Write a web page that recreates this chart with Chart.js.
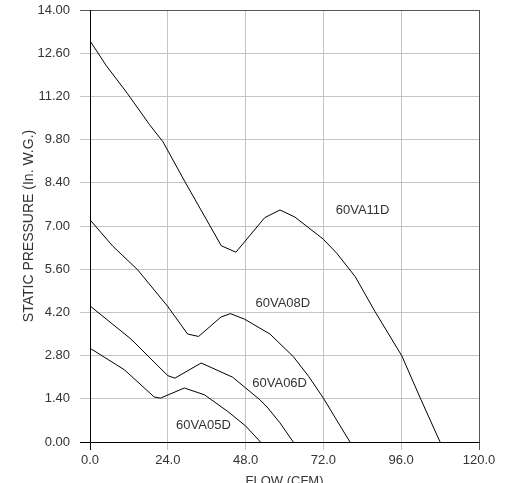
<!DOCTYPE html>
<html lang="en">
<head>
<meta charset="UTF-8">
<title>Fan curves</title>
<script src="https://cdn.jsdelivr.net/npm/chart.js"></script>
<style>
  html, body { margin: 0; padding: 0; background: #fff; overflow: hidden; }
  #wrap { width: 506px; height: 483px; position: relative; }
</style>
</head>
<body>
<div id="wrap"><canvas id="fanChart"></canvas></div>
<script>
// tick labels
const flowTicks = [0, 24, 48, 72, 96, 120];
const pressureTicks = [0, 1.4, 2.8, 4.2, 5.6, 7.0, 8.4, 9.8, 11.2, 12.6, 14.0];

// curves (flow in CFM, pressure in In. W.G.)
const flow11D = [0, 5, 11.5, 18.4, 22.5, 29.2, 40.5, 45, 53.9, 58.6, 63.2, 72, 76.1, 81.8, 87.9, 96.2, 101.9, 108];
const pres11D = [13.0, 12.2, 11.3, 10.28, 9.73, 8.45, 6.36, 6.15, 7.27, 7.52, 7.29, 6.57, 6.12, 5.36, 4.23, 2.79, 1.42, 0];

const flow08D = [0, 7, 14.7, 16.2, 24, 30.1, 33.5, 40.4, 43.3, 47.7, 55.5, 62.7, 67.5, 72, 80.2];
const pres08D = [7.2, 6.35, 5.58, 5.39, 4.39, 3.50, 3.42, 4.05, 4.16, 3.98, 3.50, 2.77, 2.12, 1.42, 0];

const flow06D = [0, 12.6, 24, 26.2, 34.3, 44, 52.4, 54.9, 58.6, 62.7];
const pres06D = [4.41, 3.34, 2.15, 2.07, 2.56, 2.10, 1.37, 1.10, 0.62, 0];

const flow05D = [0, 10.6, 19.8, 21.7, 29.1, 35.3, 42.5, 48, 52.6];
const pres05D = [3.04, 2.34, 1.46, 1.42, 1.75, 1.53, 0.99, 0.52, 0];

const curveNames = ['60VA11D', '60VA08D', '60VA06D', '60VA05D'];
// where each model name sits, in data units
const nameFlow = [84.1, 59.5, 58.5, 35.0];
const namePres = [7.50, 4.50, 1.89, 0.53];

function pairs(xs, ys) {
    return xs.map((x, i) => ({ x: x, y: ys[i] }));
}

const series = [
    pairs(flow11D, pres11D),
    pairs(flow08D, pres08D),
    pairs(flow06D, pres06D),
    pairs(flow05D, pres05D)
];

const FONT = 'Arial, "Liberation Sans", Helvetica, sans-serif';

// grid: axes black, far edges dark gray, inner lines light gray
function gridColor(edgeMax) {
    return (c) => {
        if (!c.tick) return '#c4c4c4';
        if (Math.abs(c.tick.value) < 1e-9) return '#000';
        if (Math.abs(c.tick.value - edgeMax) < 1e-9) return '#555';
        return '#c4c4c4';
    };
}

const curveLabels = {
    id: 'curveLabels',
    afterDatasetsDraw(chart) {
        const ctx = chart.ctx;
        const xs = chart.scales.x, ys = chart.scales.y;
        ctx.save();
        ctx.font = '13px ' + FONT;
        ctx.fillStyle = '#333';
        ctx.textAlign = 'center';
        ctx.textBaseline = 'middle';
        curveNames.forEach((name, i) => {
            ctx.fillText(name, xs.getPixelForValue(nameFlow[i]), ys.getPixelForValue(namePres[i]));
        });
        ctx.restore();
    }
};

new Chart(document.getElementById('fanChart'), {
    type: 'line',
    data: {
        datasets: series.map((d, i) => ({
            label: curveNames[i],
            data: d,
            borderColor: '#000',
            borderWidth: 1,
            pointRadius: 0,
            tension: 0,
            fill: false
        }))
    },
    options: {
        responsive: true,
        maintainAspectRatio: false,
        animation: false,
        layout: { padding: { top: 10, right: 27, left: 0, bottom: 0 } },
        plugins: {
            legend: { display: false },
            tooltip: { enabled: false }
        },
        scales: {
            x: {
                type: 'linear',
                min: 0,
                max: 120,
                afterBuildTicks: (axis) => { axis.ticks = flowTicks.map(v => ({ value: v })); },
                afterFit: (axis) => {
                    axis.height = 41;
                    axis.paddingLeft = 0;
                    axis.paddingRight = 0;
                },
                ticks: {
                    padding: 3,
                    color: '#333',
                    font: { family: FONT, size: 13 },
                    maxRotation: 0,
                    callback: (v) => Number(v).toFixed(1)
                },
                grid: { color: gridColor(120), lineWidth: 1, tickLength: 8 },
                border: { display: true, color: '#000', width: 1 },
                title: {
                    display: true,
                    text: 'FLOW (CFM)',
                    color: '#333',
                    font: { family: FONT, size: 13 },
                    padding: { top: 0, bottom: -6 }
                }
            },
            y: {
                type: 'linear',
                min: 0,
                max: 14,
                afterBuildTicks: (axis) => { axis.ticks = pressureTicks.map(v => ({ value: v })); },
                afterFit: (axis) => {
                    axis.width = 90;
                    axis.paddingTop = 0;
                    axis.paddingBottom = 0;
                },
                ticks: {
                    padding: 10,
                    color: '#333',
                    font: { family: FONT, size: 13 },
                    callback: (v) => Number(v).toFixed(2)
                },
                grid: { color: gridColor(14), lineWidth: 1, tickLength: 10 },
                border: { display: true, color: '#000', width: 1 },
                title: {
                    display: true,
                    text: 'STATIC PRESSURE (In. W.G.)',
                    color: '#333',
                    font: { family: FONT, size: 14 },
                    padding: { top: 21, bottom: 0 }
                }
            }
        }
    },
    plugins: [curveLabels]
});
</script>
</body>
</html>
